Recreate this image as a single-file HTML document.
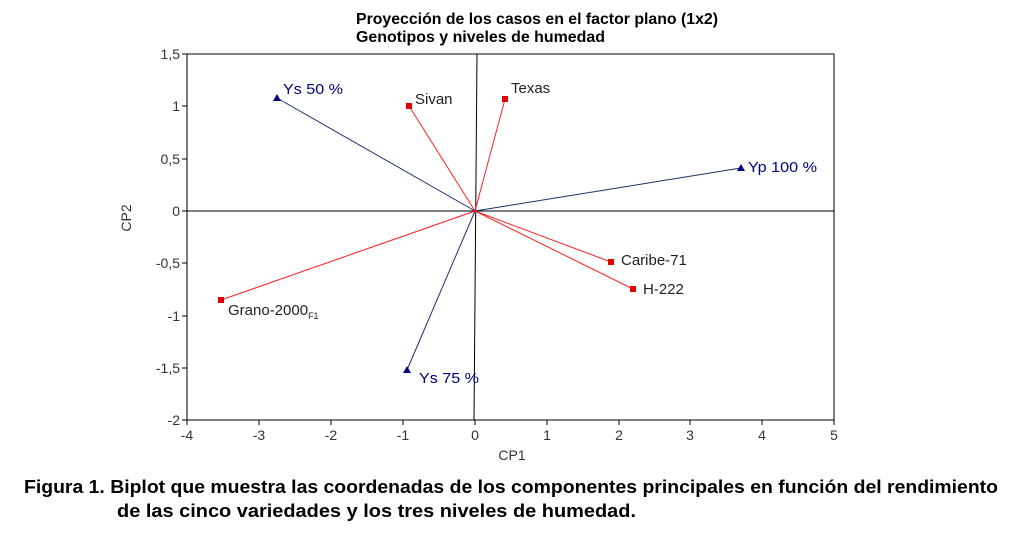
<!DOCTYPE html>
<html><head><meta charset="utf-8"><style>
body{margin:0;background:#fff;width:1024px;height:537px;overflow:hidden}
svg{display:block}
text{font-family:"Liberation Sans",Arial,sans-serif}
</style></head><body>
<svg width="1024" height="537" viewBox="0 0 1024 537" xmlns="http://www.w3.org/2000/svg">
<text x="356" y="24" font-size="16" font-weight="bold" fill="#000" textLength="362" lengthAdjust="spacingAndGlyphs">Proyección de los casos en el factor plano (1x2)</text>
<text x="356" y="42" font-size="16" font-weight="bold" fill="#000" textLength="249" lengthAdjust="spacingAndGlyphs">Genotipos y niveles de humedad</text>
<rect x="187" y="54" width="647" height="366" fill="none" stroke="#000" stroke-width="1"/>
<line x1="187" y1="211" x2="834" y2="211" stroke="#000" stroke-width="1"/>
<line x1="477" y1="54" x2="474" y2="420" stroke="#000" stroke-width="1"/>
<g stroke="#000">
<line x1="182" y1="54" x2="187" y2="54"/><line x1="182" y1="106" x2="187" y2="106"/>
<line x1="182" y1="159" x2="187" y2="159"/><line x1="182" y1="211" x2="187" y2="211"/>
<line x1="182" y1="263" x2="187" y2="263"/><line x1="182" y1="316" x2="187" y2="316"/>
<line x1="182" y1="368" x2="187" y2="368"/><line x1="182" y1="420" x2="187" y2="420"/>
<line x1="187" y1="420" x2="187" y2="425"/><line x1="259" y1="420" x2="259" y2="425"/>
<line x1="331" y1="420" x2="331" y2="425"/><line x1="403" y1="420" x2="403" y2="425"/>
<line x1="475" y1="420" x2="475" y2="425"/><line x1="547" y1="420" x2="547" y2="425"/>
<line x1="619" y1="420" x2="619" y2="425"/><line x1="690" y1="420" x2="690" y2="425"/>
<line x1="762" y1="420" x2="762" y2="425"/><line x1="834" y1="420" x2="834" y2="425"/>
</g>
<g font-size="14" fill="#333" text-anchor="end">
<text x="180" y="59">1,5</text><text x="180" y="111">1</text><text x="180" y="164">0,5</text>
<text x="180" y="216">0</text><text x="180" y="268">-0,5</text><text x="180" y="321">-1</text>
<text x="180" y="373">-1,5</text><text x="180" y="425">-2</text>
</g>
<g font-size="14" fill="#333" text-anchor="middle">
<text x="187" y="440">-4</text><text x="259" y="440">-3</text><text x="331" y="440">-2</text>
<text x="403" y="440">-1</text><text x="475" y="440">0</text><text x="547" y="440">1</text>
<text x="619" y="440">2</text><text x="690" y="440">3</text><text x="762" y="440">4</text>
<text x="834" y="440">5</text>
<text x="512" y="460">CP1</text>
</g>
<text x="0" y="0" font-size="14" fill="#333" text-anchor="middle" transform="translate(131,218) rotate(-90)">CP2</text>
<g stroke="#1f2f6f" stroke-width="1">
<line x1="475" y1="211" x2="277" y2="98"/>
<line x1="475" y1="211" x2="741" y2="168"/>
<line x1="475" y1="211" x2="407" y2="370"/>
</g>
<g stroke="#ff2020" stroke-width="1">
<line x1="475" y1="211" x2="409" y2="106"/>
<line x1="475" y1="211" x2="505" y2="99"/>
<line x1="475" y1="211" x2="611" y2="262"/>
<line x1="475" y1="211" x2="633" y2="289"/>
<line x1="475" y1="211" x2="221" y2="300"/>
</g>
<g fill="#e00000">
<rect x="406" y="103" width="6" height="6"/><rect x="502" y="96" width="6" height="6"/>
<rect x="608" y="259" width="6" height="6"/><rect x="630" y="286" width="6" height="6"/>
<rect x="218" y="297" width="6" height="6"/>
</g>
<g fill="#000080">
<polygon points="277,94 281,101 273,101"/>
<polygon points="741,164 745,171 737,171"/>
<polygon points="407,366 411,373 403,373"/>
</g>
<g font-size="15" fill="#000080">
<text x="283" y="94" textLength="60" lengthAdjust="spacingAndGlyphs">Ys 50 %</text>
<text x="748" y="172" textLength="69" lengthAdjust="spacingAndGlyphs">Yp 100 %</text>
<text x="419" y="383" textLength="60" lengthAdjust="spacingAndGlyphs">Ys 75 %</text>
</g>
<g font-size="15" fill="#222">
<text x="415" y="104">Sivan</text>
<text x="511" y="93">Texas</text>
<text x="621" y="265">Caribe-71</text>
<text x="643" y="294">H-222</text>
<text x="228" y="315">Grano-2000<tspan font-size="9" dy="4">F1</tspan></text>
</g>
<text x="24" y="493" font-size="18" font-weight="bold" fill="#000" textLength="974" lengthAdjust="spacingAndGlyphs">Figura 1. Biplot que muestra las coordenadas de los componentes principales en función del rendimiento</text>
<text x="117" y="517" font-size="18" font-weight="bold" fill="#000" textLength="519" lengthAdjust="spacingAndGlyphs">de las cinco variedades y los tres niveles de humedad.</text>
</svg>
</body></html>
